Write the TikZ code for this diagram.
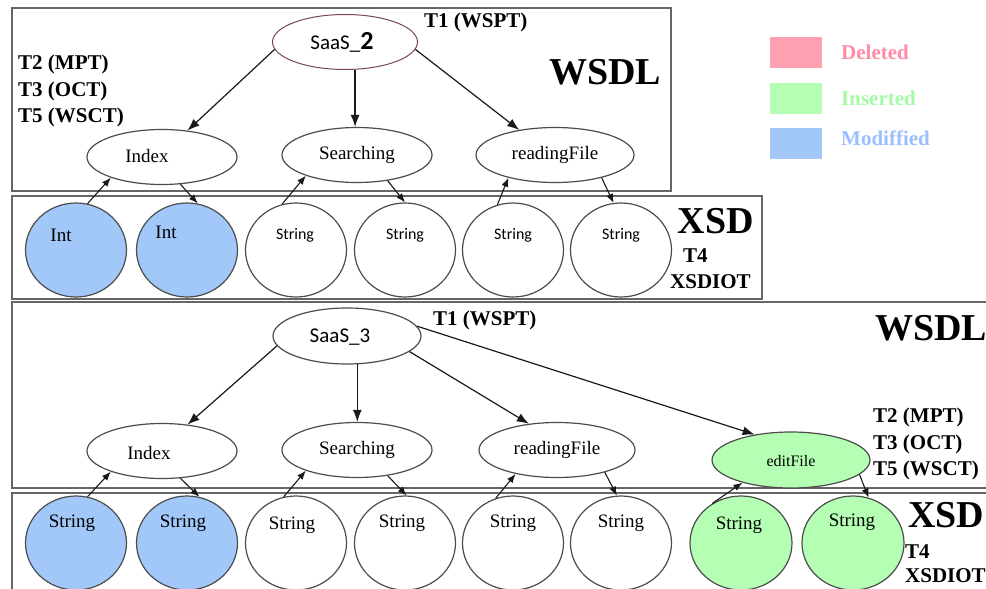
\documentclass[tikz,border=0pt]{standalone}
\usepackage{fontspec}
\setmainfont{Liberation Serif}
\newfontfamily\carlito{Carlito}
\usetikzlibrary{arrows.meta,shapes.geometric}
\definecolor{modblue}{RGB}{162,200,250}
\definecolor{insgreen}{RGB}{180,255,180}
\definecolor{delpink}{RGB}{255,160,176}
\definecolor{deltext}{RGB}{255,140,165}
\definecolor{instext}{RGB}{165,250,165}
\definecolor{modtext}{RGB}{155,190,255}
\definecolor{saasc}{RGB}{120,70,85}
\begin{document}
\begin{tikzpicture}[x=1pt,y=-1pt,
  box/.style={draw=black!60,line width=1.6pt},
  el/.style={ellipse,draw=black!70,line width=1.2pt,inner sep=0pt,minimum width=150pt,minimum height=55pt,fill=white},
  circ/.style={ellipse,draw=black!70,line width=1.2pt,inner sep=0pt,minimum width=101pt,minimum height=94pt,fill=white},
  tfont/.style={font=\fontsize{19}{21}\selectfont},
  sfont/.style={font=\carlito\fontsize{21}{23}\selectfont},
  cfont/.style={font=\carlito\fontsize{16}{18}\selectfont},
  lab/.style={font=\bfseries\fontsize{21}{26.5}\selectfont,inner sep=0pt,align=left},
  big/.style={font=\bfseries\fontsize{38}{40}\selectfont,inner sep=0pt},
  legbox/.style={draw=white,minimum width=53pt,minimum height=32pt,inner sep=0pt},
  legt/.style={font=\bfseries\fontsize{21}{23}\selectfont,inner sep=0pt,anchor=west},
  bigarr/.style={-{Latex[length=12pt,width=9pt]},line width=1.2pt,draw=black!90},
  smarr/.style={-{Latex[length=9pt,width=7pt]},line width=1.1pt,draw=black!90}]
\useasboundingbox (0,0) rectangle (986,589);
\clip (0,0) rectangle (986,589);
% boxes
\draw[box] (12,8) rectangle (671,191);
\draw[box] (12,196) rectangle (762,299);
\draw[box] (12,302) rectangle (996,488);
\draw[box] (12,493) rectangle (996,600);
% legend
\node[legbox,fill=delpink] (ld) at (796,52) {};
\node[legbox,fill=insgreen] (li) at (796,98) {};
\node[legbox,fill=modblue] (lm) at (796,143) {};
\node[legt,text=deltext] (ldt) at (841,52) {Deleted};
\node[legt,text=instext] (lit) at (841,98) {Inserted};
\node[legt,text=modtext] (lmt) at (841,138) {Modiffied};
% ---- upper part ----
\node[el,draw=saasc,minimum width=145pt,line width=1pt,label={[sfont,xshift=-3pt]center:SaaS\_{\bfseries\fontsize{26}{26}\selectfont 2}}] (s2) at (345,42) {};
\node[el,label={[tfont,xshift=-15pt,yshift=1pt]center:Index}] (idx1) at (162,157) {};
\node[el,label={[tfont]center:Searching}] (sea1) at (357,155) {};
\node[el,minimum width=158pt,label={[tfont]center:readingFile}] (rf1) at (555,155) {};
\node[lab,anchor=west] (t1a) at (424,22) {T1 (WSPT)};
\node[lab,anchor=west] (t2a) at (18,91) {T2 (MPT)\\T3 (OCT)\\T5 (WSCT)};
\node[big] (w1) at (605,72) {WSDL};
\node[circ,fill=modblue,label={[tfont,xshift=-15pt,yshift=15pt]center:Int}] (c1) at (76,250) {};
\node[circ,fill=modblue,label={[tfont,xshift=-21pt,yshift=18pt]center:Int}] (c2) at (187,250) {};
\node[circ,label={[cfont,xshift=-1pt,yshift=15pt]center:String}] (c3) at (296,250) {};
\node[circ,label={[cfont,yshift=15pt]center:String}] (c4) at (405,250) {};
\node[circ,label={[cfont,yshift=15pt]center:String}] (c5) at (513,250) {};
\node[circ,label={[cfont,yshift=15pt]center:String}] (c6) at (621,250) {};
\node[big] (x1) at (716,221) {XSD};
\node[lab,anchor=west] (t4a) at (683,256) {T4};
\node[lab,anchor=west] (xo1) at (670,282) {XSDIOT};
\draw[bigarr] (s2.186) -- (idx1.46);
\draw[bigarr] (s2.-70) -- (s2.-70 |- sea1.north);
\draw[bigarr] (s2.-6) -- (rf1.145);
\draw[smarr] (c1.76) -- (idx1.202);
\draw[smarr] (idx1.-56) -- (c2.77);
\draw[smarr] (c3.107) -- (sea1.202);
\draw[smarr] (sea1.-40) -- (c4.90);
\draw[smarr] (c5.109) -- (rf1.206);
\draw[smarr] (rf1.-26) -- (c6.99);
% ---- lower part ----
\node[el,minimum width=148pt,minimum height=56pt,label={[sfont,xshift=-7pt,yshift=-1pt]center:SaaS\_3}] (s3) at (347,336) {};
\node[el,label={[tfont,xshift=-13pt,yshift=-2pt]center:Index}] (idx2) at (162,451) {};
\node[el,label={[tfont]center:Searching}] (sea2) at (357,450) {};
\node[el,minimum width=156pt,label={[tfont]center:readingFile}] (rf2) at (557,450) {};
\node[el,fill=insgreen,minimum width=158pt,minimum height=56pt,label={[font=\fontsize{16}{18}\selectfont,yshift=-1pt]center:editFile}] (ef) at (791,460) {};
\node[lab,anchor=west] (t1b) at (433,320) {T1 (WSPT)};
\node[lab,anchor=west] (t2b) at (873,444) {T2 (MPT)\\T3 (OCT)\\T5 (WSCT)};
\node[big,anchor=west] (w2) at (875,328) {WSDL};
\node[circ,fill=modblue,label={[tfont,xshift=-4pt,yshift=20pt]center:String}] (d1) at (76,543) {};
\node[circ,fill=modblue,label={[tfont,xshift=-4pt,yshift=20pt]center:String}] (d2) at (187,543) {};
\node[circ,label={[tfont,xshift=-4pt,yshift=18pt]center:String}] (d3) at (296,543) {};
\node[circ,label={[tfont,xshift=-3pt,yshift=20pt]center:String}] (d4) at (405,543) {};
\node[circ,label={[tfont,yshift=20pt]center:String}] (d5) at (513,543) {};
\node[circ,label={[tfont,yshift=20pt]center:String}] (d6) at (621,543) {};
\node[circ,fill=insgreen,minimum width=102pt,label={[tfont,xshift=-2pt,yshift=18pt]center:String}] (d7) at (741,543) {};
\node[circ,fill=insgreen,minimum width=102pt,label={[tfont,xshift=-1pt,yshift=21pt]center:String}] (d8) at (853,543) {};
\node[big,anchor=west] (x2) at (908,515) {XSD};
\node[lab,anchor=west] (t4b) at (905,552) {T4};
\node[lab,anchor=west] (xo2) at (905,576) {XSDIOT};
\draw[bigarr] (s3.188) -- (idx2.46);
\draw[bigarr] (s3.-70) -- (s3.-70 |- sea2.north);
\draw[bigarr] (s3.-14) -- (rf2.137);
\draw[bigarr] (s3.8) -- (ef.145);
\draw[smarr] (d1.76) -- (idx2.202);
\draw[smarr] (idx2.-56) -- (d2.75);
\draw[smarr] (d3.105) -- (sea2.202);
\draw[smarr] (sea2.-40) -- (d4.88);
\draw[smarr] (d5.111) -- (rf2.210);
\draw[smarr] (rf2.-25) -- (d6.95);
\draw[smarr] (d7.126) -- (ef.205);
\draw[smarr] (ef.-12) -- (d8.71);
\end{tikzpicture}
\end{document}
